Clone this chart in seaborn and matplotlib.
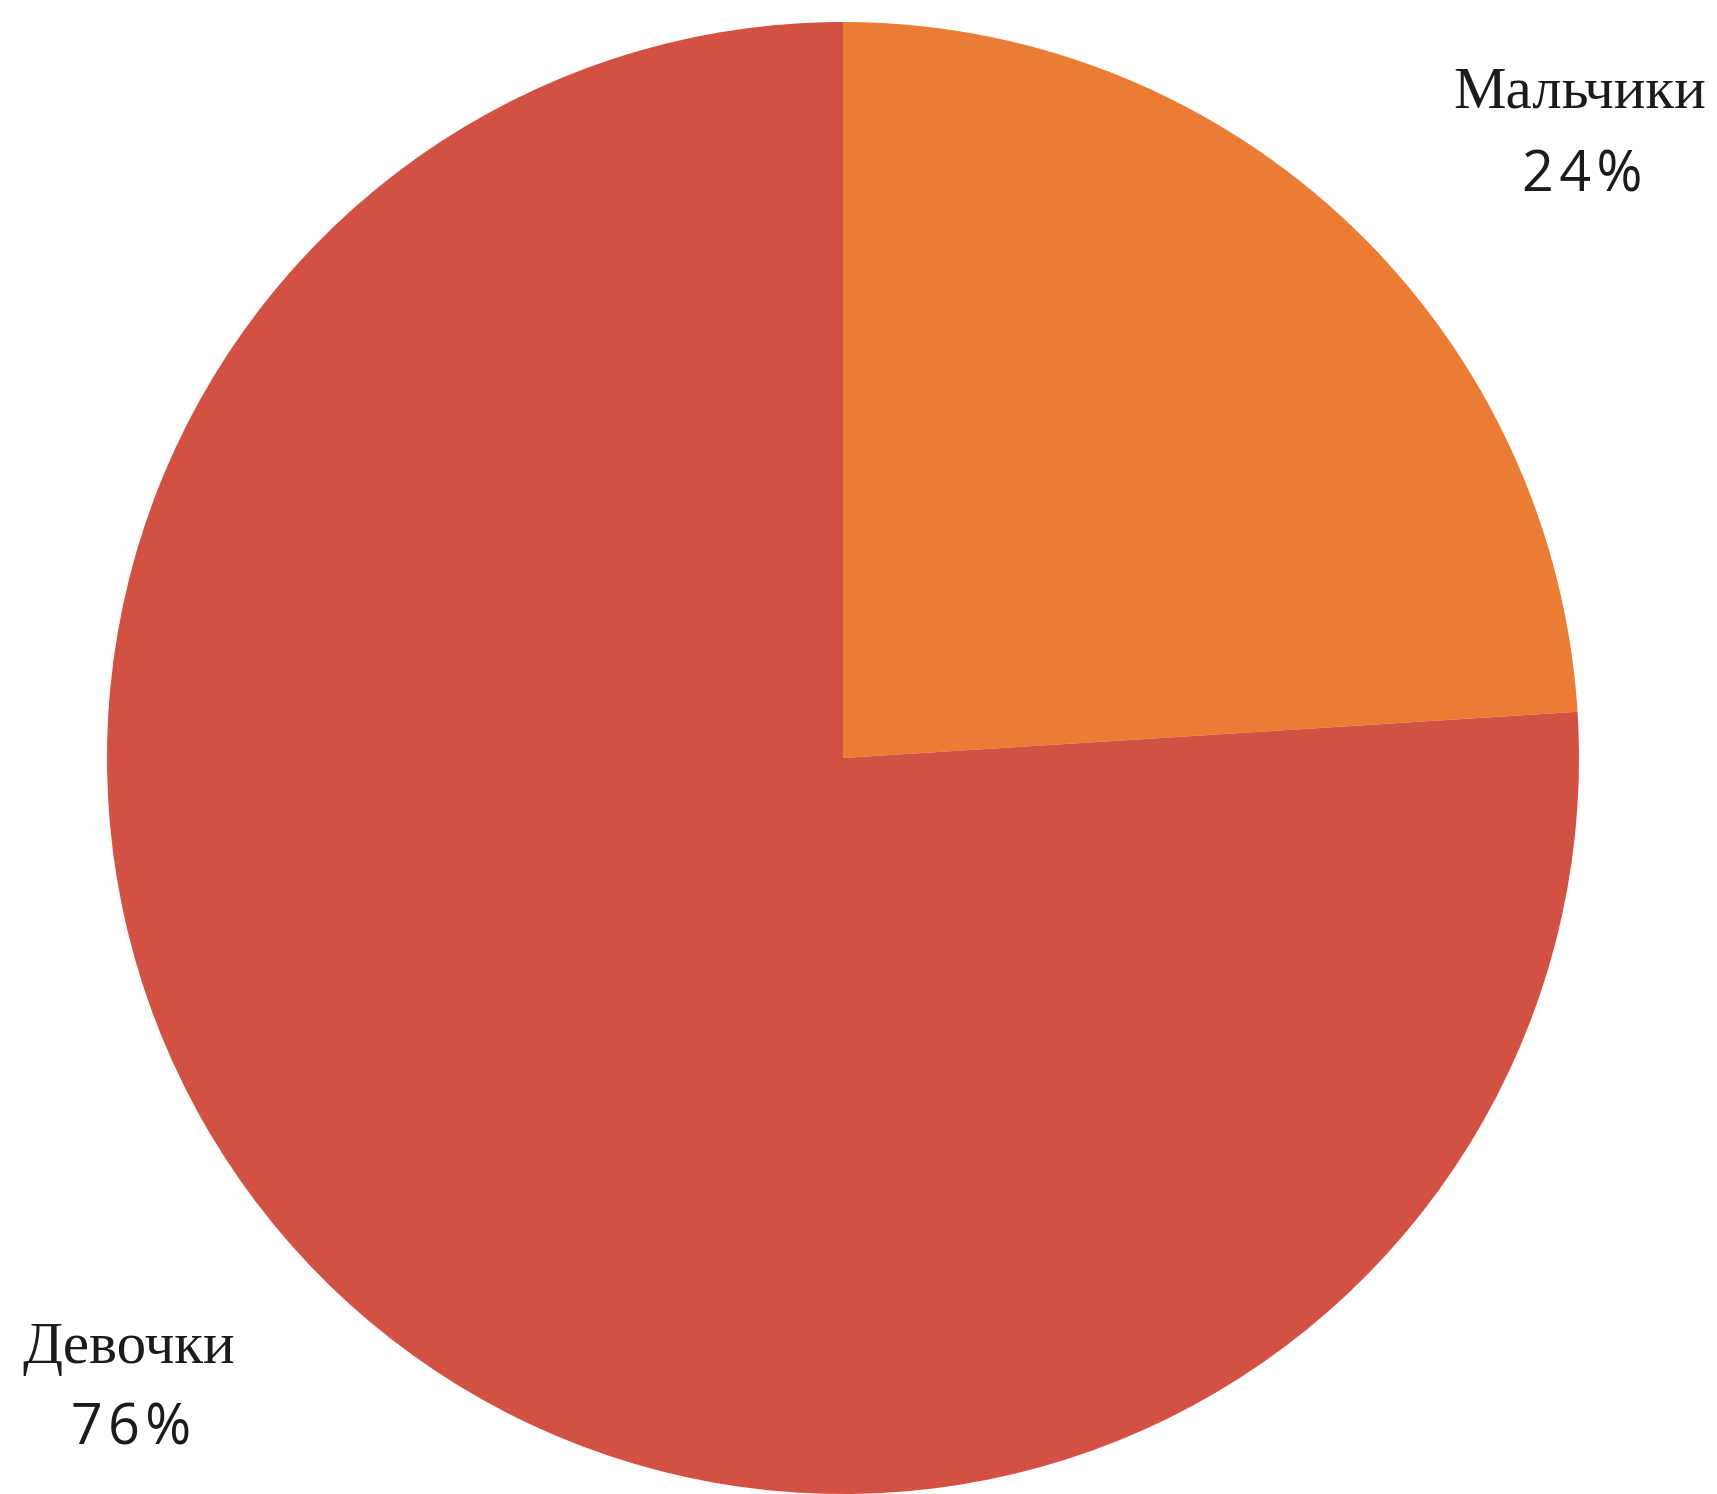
import matplotlib
matplotlib.use("Agg")
import matplotlib.pyplot as plt
import seaborn as sns

sns.set_theme(style="white")

categories = ["Мальчики", "Девочки"]
values = [24, 76]
pct_labels = ["2\u200a4\u200a%", "7\u200a6\u200a%"]
colors = ["#EB7C33", "#D35142"]

W, H = 1717, 1494
fig = plt.figure(figsize=(W / 100, H / 100), dpi=100)
cx, cy, r = 843, 758, 736
ax = fig.add_axes([(cx - r) / W, (H - cy - r) / H, 2 * r / W, 2 * r / H])
ax.pie(values, colors=colors, startangle=90, counterclock=False,
       wedgeprops=dict(linewidth=0), radius=1.0)
ax.set_xlim(-1, 1)
ax.set_ylim(-1, 1)
ax.set_aspect("equal")
ax.axis("off")

txt_color = "#1a1a1f"
label_pos = [(1.001, 0.903), (-0.970, -0.803)]
pct_pos = [(1.004, 0.790), (-0.967, -0.913)]
for cat, pl, lp, pp in zip(categories, pct_labels, label_pos, pct_pos):
    ax.text(lp[0], lp[1], cat, ha="center", va="center", fontsize=42.5,
            family="Liberation Serif", color=txt_color, clip_on=False)
    ax.text(pp[0], pp[1], pl, ha="center", va="center", fontsize=40,
            family=["Open Sans", "DejaVu Sans"], color=txt_color, clip_on=False)

fig.savefig("out.png", dpi=100, facecolor="white")
